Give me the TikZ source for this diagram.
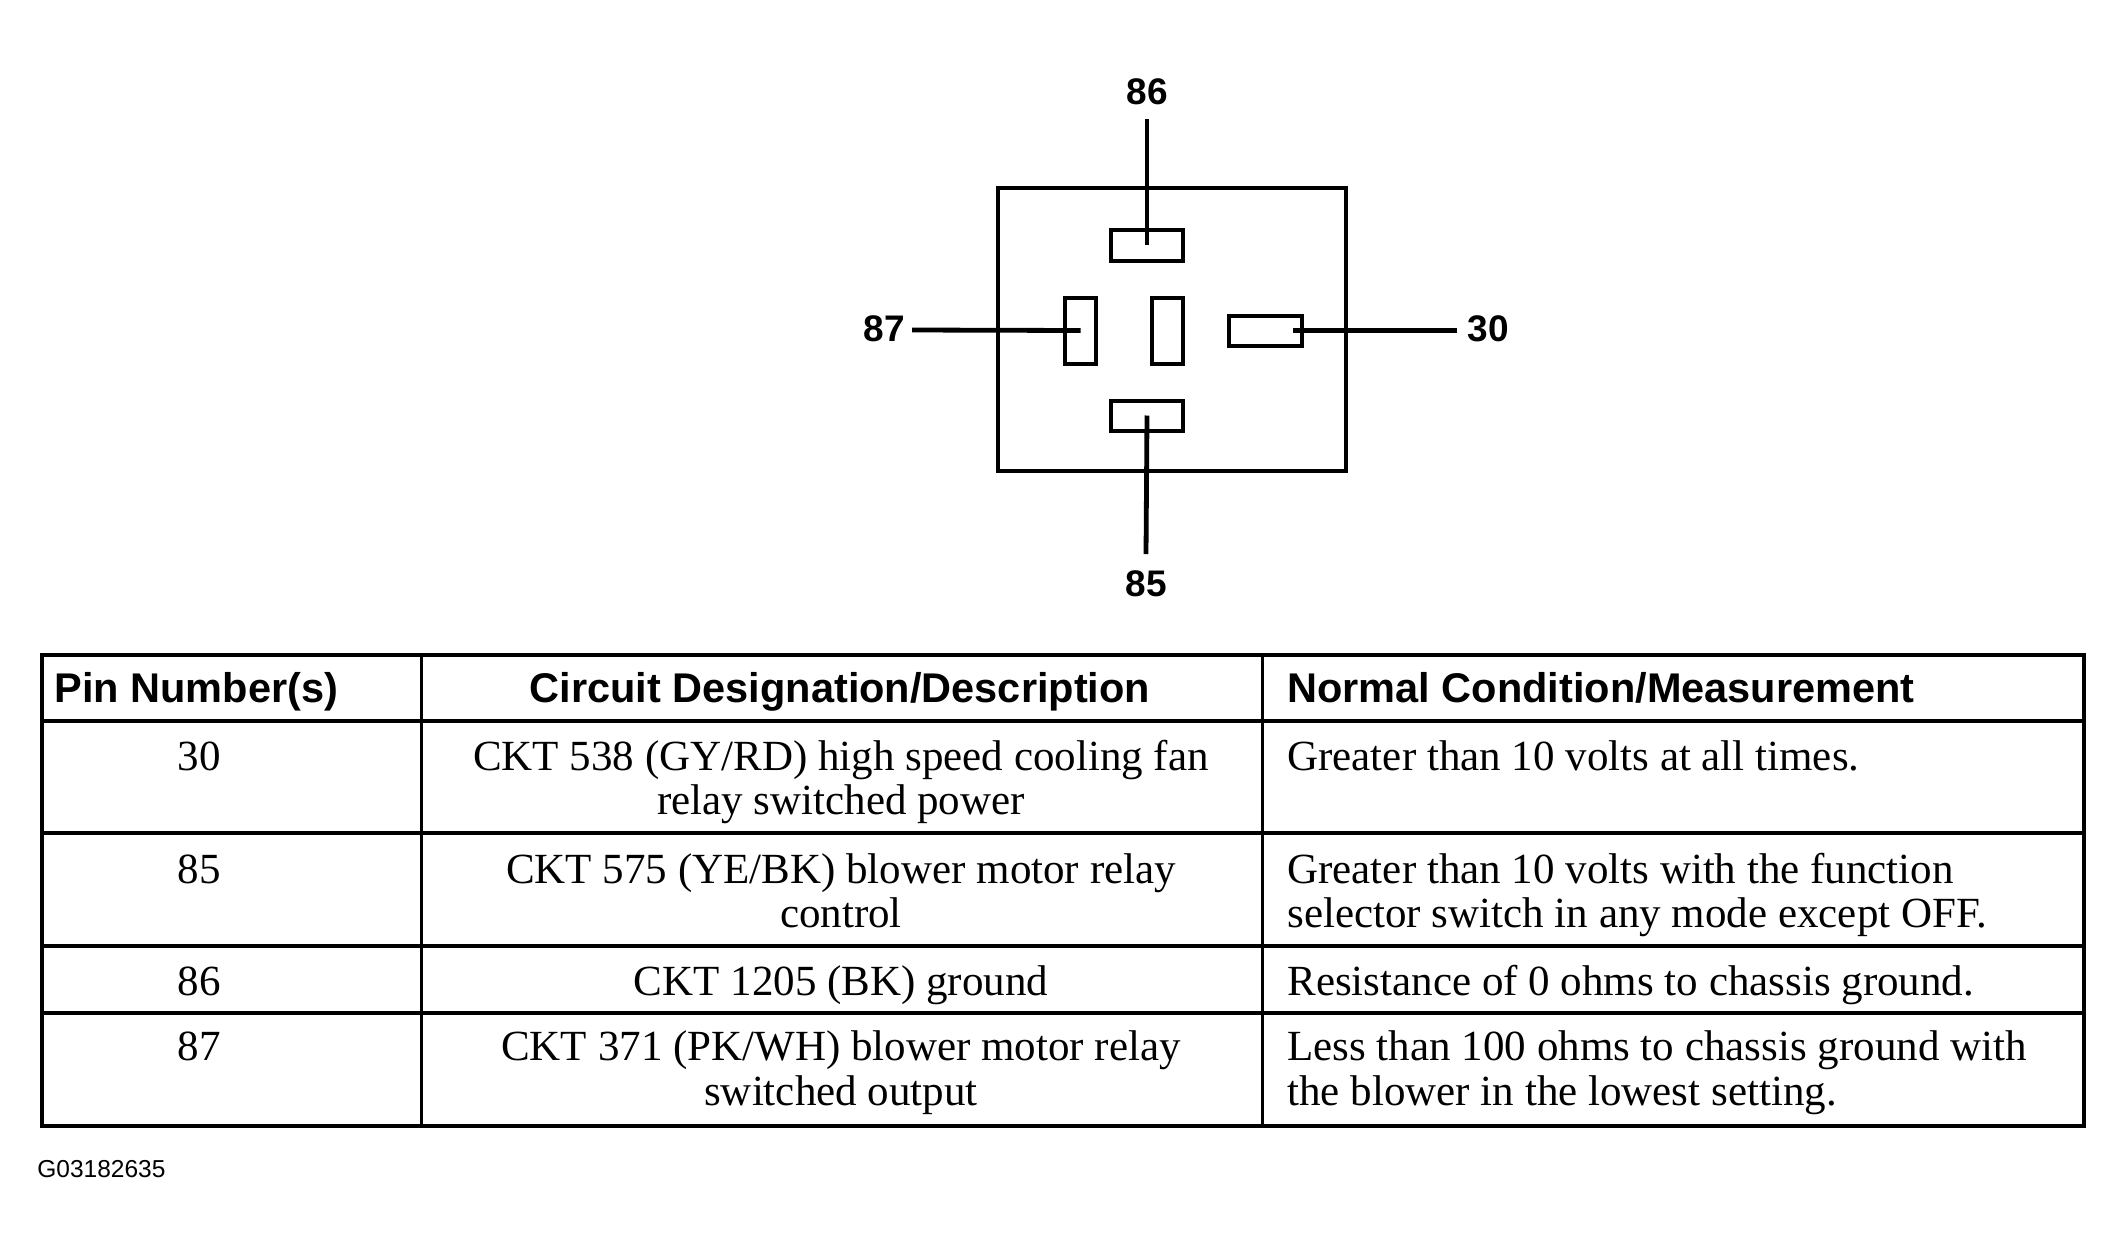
\documentclass[tikz,border=0pt]{standalone}
\usepackage{fontspec}
\setmainfont{Liberation Serif}
\setsansfont{Liberation Sans}
\begin{document}
\begin{tikzpicture}[x=0.5pt,y=-0.5pt,
  relaybox/.style={draw, line width=2pt, inner sep=0pt, minimum width=174pt, minimum height=141.5pt},
  pinh/.style={draw, line width=2pt, inner sep=0pt, minimum width=36pt, minimum height=15.5pt},
  pinv/.style={draw, line width=2pt, inner sep=0pt, minimum width=15.5pt, minimum height=33pt},
  lbl/.style={font=\sffamily\bfseries\fontsize{18.5pt}{20pt}\selectfont, inner sep=0pt, anchor=base},
  lead/.style={line width=2.4pt},
  hline/.style={line width=1.75pt},
  vline/.style={line width=1.5pt},
  hdr/.style={font=\sffamily\bfseries\fontsize{20.75pt}{22pt}\selectfont, inner sep=0pt},
  txt/.style={font=\fontsize{21.5pt}{22.5pt}\selectfont, inner sep=0pt},
  figcode/.style={font=\sffamily\fontsize{12.25pt}{14pt}\selectfont, inner sep=0pt, anchor=base west}
]
\useasboundingbox (0,0) rectangle (2123,1253);

% relay
\node[relaybox] (relay) at (1172,329) {};
\node[pinh] (p86) at (1147,245) {};
\node[pinv] (p87) at (1080.5,330.5) {};
\node[pinv] (pmid) at (1167.5,330.5) {};
\node[pinh, minimum width=36.5pt, minimum height=15pt] (p30) at (1265.5,330.5) {};
\node[pinh, minimum height=15pt] (p85) at (1147,415.5) {};

\node[lbl] (l86) at (1147,104) {86};
\node[lbl] (l87) at (884,341) {87};
\node[lbl] (l30) at (1488,341) {30};
\node[lbl] (l85) at (1146,596) {85};

\coordinate (e86) at (1147,119);
\coordinate (e87) at (912,330);
\coordinate (e30) at (1457,330.5);
\coordinate (e85) at (1146,554);

\draw[lead] (e86) -- (p86.center);
\draw[lead] (e87) -- (p87.center);
\draw[lead, shorten >=13.5pt] (e30) -- (p30.center);
\draw[lead] (e85) -- (p85.center);

% table grid
\coordinate (tl) at (42,655);
\coordinate (br) at (2084,1126);
\draw[hline] (tl) rectangle (br);
\foreach \yy in {721,833,946,1013} \draw[hline] (42,\yy) -- (2084,\yy);
\foreach \xx in {421,1262} \draw[vline] (\xx,655) -- (\xx,1126);

% header
\node[hdr, anchor=base west] (h1) at (54,702) {Pin Number(s)};
\node[hdr, anchor=base] (h2) at (840,702) {Circuit Designation/Description};
\node[hdr, anchor=base west] (h3) at (1287,702) {Normal Condition/Measurement};

% row 30
\node[txt, anchor=base] (n30) at (199,770) {30};
\node[txt, anchor=base] (d30a) at (841,770) {CKT 538 (GY/RD) high speed cooling fan};
\node[txt, anchor=base] (d30b) at (841,814) {relay switched power};
\node[txt, anchor=base west] (m30) at (1287,770) {Greater than 10 volts at all times.};

% row 85
\node[txt, anchor=base] (n85) at (199,883) {85};
\node[txt, anchor=base] (d85a) at (841,883) {CKT 575 (YE/BK) blower motor relay};
\node[txt, anchor=base] (d85b) at (841,927) {control};
\node[txt, anchor=base west] (m85a) at (1287,883) {Greater than 10 volts with the function};
\node[txt, anchor=base west] (m85b) at (1287,927) {selector switch in any mode except OFF.};

% row 86
\node[txt, anchor=base] (n86) at (199,995) {86};
\node[txt, anchor=base] (d86) at (841,995) {CKT 1205 (BK) ground};
\node[txt, anchor=base west] (m86) at (1287,995) {Resistance of 0 ohms to chassis ground.};

% row 87
\node[txt, anchor=base] (n87) at (199,1060) {87};
\node[txt, anchor=base] (d87a) at (841,1060) {CKT 371 (PK/WH) blower motor relay};
\node[txt, anchor=base] (d87b) at (841,1105) {switched output};
\node[txt, anchor=base west] (m87a) at (1287,1060) {Less than 100 ohms to chassis ground with};
\node[txt, anchor=base west] (m87b) at (1287,1105) {the blower in the lowest setting.};

\node[figcode] (fig) at (37,1177) {G03182635};
\end{tikzpicture}
\end{document}
